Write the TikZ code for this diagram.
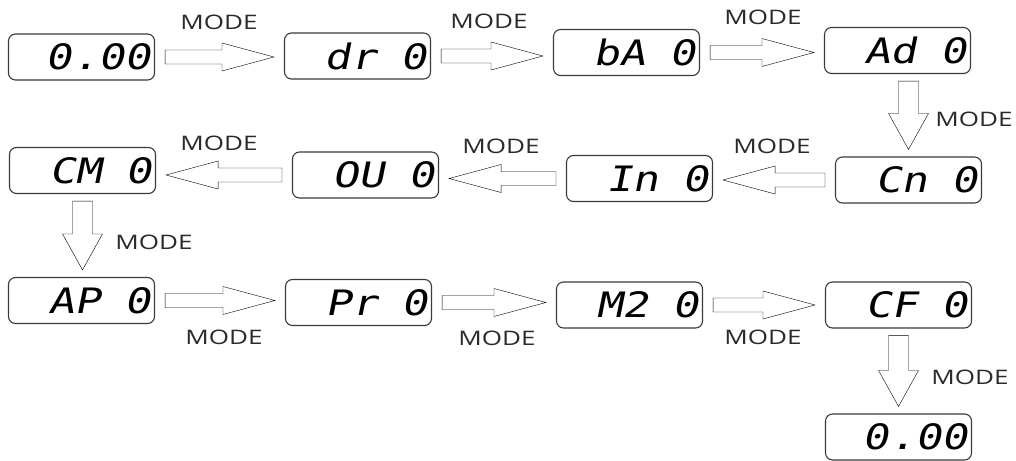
\documentclass[tikz,border=0pt]{standalone}
\usepackage{fontspec}
\usepackage{xcolor}
\usepackage{tikz}
\usetikzlibrary{calc}
\newfontfamily\modefont[FakeStretch=1.3]{Open Sans}
\newfontfamily\dispfont[FakeStretch=1.24,FakeSlant=0.2]{DejaVu Sans Mono}
\newcommand{\blank}{\hspace{12pt} }
\definecolor{framegray}{HTML}{3A3A3A}
\definecolor{labelgray}{HTML}{2A2A2A}
\tikzset{
  panel/.style={draw=framegray, line width=1.1pt, rounded corners=7pt,
    minimum height=46pt, text width=138pt, inner xsep=4pt, align=right,
    font=\dispfont\fontsize{35}{36}\selectfont},
  modelabel/.style={text=labelgray, inner sep=0pt,
    font=\modefont\fontsize{20}{22}\selectfont},
  % hollow block arrow: shaft half width, head half width, head length, gap
  blockarrow/.style n args={4}{draw=black, line width=1pt,
    to path={let \p1=(\tikztostart), \p2=(\tikztotarget),
      \n1={atan2(\y2-\y1,\x2-\x1)}, \n2={veclen(\x2-\x1,\y2-\y1)} in
      {[shift={(\p1)}, rotate=\n1]
      (#4,#1) -- ({\n2*1pt-#3-#4},#1) -- ({\n2*1pt-#3-#4},#2) -- ({\n2*1pt-#4},0pt)
      -- ({\n2*1pt-#3-#4},-#2) -- ({\n2*1pt-#3-#4},-#1) -- (#4,-#1) -- cycle}}},
  harrow/.style={blockarrow={7pt}{14pt}{52pt}{10pt}},
  varrow/.style={blockarrow={10pt}{20pt}{36pt}{7pt}}
}

\begin{document}
\begin{tikzpicture}[x=1pt, y=-1pt]
\useasboundingbox (0,0) rectangle (1016,460);
% top row
\node[panel] (zero) at (81.5,57) {0.00};
\node[panel] (dr) at (357.5,56) {dr\blank 0};
\node[panel] (ba) at (626.5,52.5) {bA\blank 0};
\node[panel] (ad) at (897.5,50.5) {Ad\blank 0};
% middle row
\node[panel] (cn) at (908.5,180) {Cn\blank 0};
\node[panel] (inp) at (639.5,178.5) {In\blank 0};
\node[panel] (ou) at (365.5,175) {OU\blank 0};
\node[panel] (cm) at (82.5,170.5) {CM\blank 0};
% bottom row
\node[panel] (ap) at (81.5,300.5) {AP\blank 0};
\node[panel] (pr) at (358.5,302.5) {Pr\blank 0};
\node[panel] (mtwo) at (629.5,305) {M2\blank 0};
\node[panel] (cf) at (898.5,305) {CF\blank 0};
\node[panel] (zeroend) at (898.5,437) {0.00};

\draw (zero.east) to[harrow] (zero.east -| dr.west);
\draw (dr.east) to[harrow] (dr.east -| ba.west);
\draw (ba.east) to[harrow] (ba.east -| ad.west);
\draw (ad.south -| cn.north) to[varrow] (cn.north);
\draw (cn.west) to[harrow] (cn.west -| inp.east);
\draw (inp.west) to[harrow] (inp.west -| ou.east);
\draw (ou.west) to[harrow] (ou.west -| cm.east);
\draw (cm.south) to[varrow] (cm.south |- ap.north);
\draw (ap.east) to[harrow] (ap.east -| pr.west);
\draw (pr.east) to[harrow] (pr.east -| mtwo.west);
\draw (mtwo.east) to[harrow] (mtwo.east -| cf.west);
\draw (cf.south) to[varrow] (zeroend.north);

\node[modelabel] (m1) at (219,22) {MODE};
\node[modelabel] (m2) at (489,21) {MODE};
\node[modelabel] (m3) at (763,17) {MODE};
\node[modelabel] (m4) at (974,119.5) {MODE};
\node[modelabel] (m5) at (772,146) {MODE};
\node[modelabel] (m6) at (501,146) {MODE};
\node[modelabel] (m7) at (219,143.5) {MODE};
\node[modelabel] (m8) at (154,242) {MODE};
\node[modelabel] (m9) at (224,337.5) {MODE};
\node[modelabel] (m10) at (497,338) {MODE};
\node[modelabel] (m11) at (763,337.5) {MODE};
\node[modelabel] (m12) at (970,377.5) {MODE};
\end{tikzpicture}
\end{document}
